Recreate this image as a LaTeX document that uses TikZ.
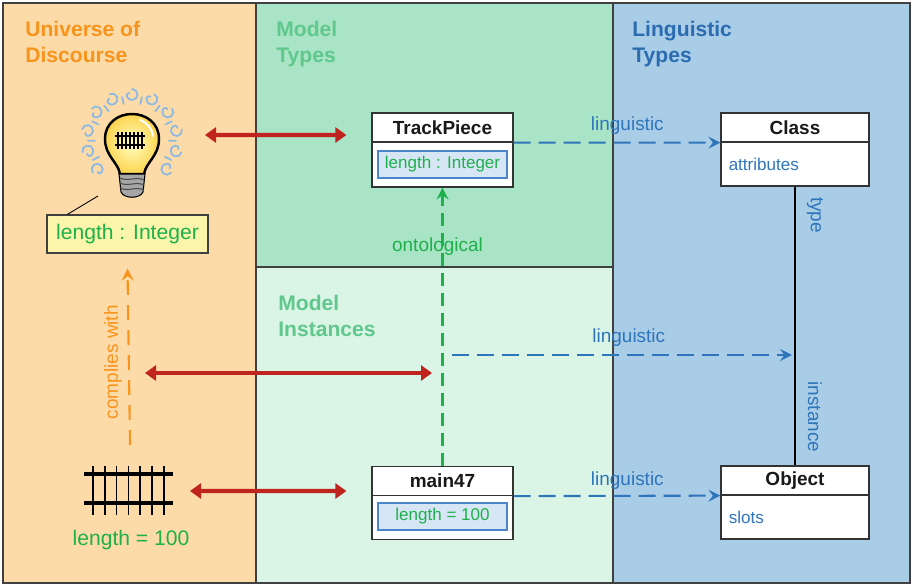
\documentclass[tikz,border=0pt]{standalone}
\usepackage{fontspec}
\setmainfont{Liberation Sans}
\usetikzlibrary{arrows.meta}

\tikzset{
  panel/.style = {draw = black!75, line width = 0.7pt},
  paneltitle/.style = {anchor = north west, align = left, inner sep = 0pt, font = \fontsize{12}{14.8}\selectfont\bfseries},
  umlbox/.style = {draw = black!80, rectangle, fill = white, line width = 0.7pt, inner sep = 0pt},
  umlhead/.style = {draw = black!80, rectangle, line width = 0.7pt, inner sep = 0pt, minimum height = 0.58cm, anchor = north, font = \fontsize{10.8}{13}\selectfont\bfseries, text = black!90},
  slotbox/.style = {draw = slotline, fill = slotfill, rectangle, line width = 0.6pt, minimum width = 2.58cm, minimum height = 0.54cm, inner sep = 0pt, font = \fontsize{9.7}{12}\selectfont, text = textgreen},
  slottext/.style = {anchor = west, inner sep = 0pt, font = \fontsize{9.7}{12}\selectfont, text = linkblue},
  edgelabel/.style = {inner sep = 0pt, font = \fontsize{10.8}{13}\selectfont},
  relarrow/.style = {draw = relred, line width = 2.4pt, {Triangle[length = 2.2mm, width = 3mm]}-{Triangle[length = 2.2mm, width = 3mm]}},
  linkarrow/.style = {draw = linkblue, line width = 1.2pt, dash pattern = on 0.34cm off 0.16cm, -{Stealth[length = 2.4mm, width = 2.4mm, inset = 0.9mm]}},
  curl/.style = {draw = curlblue, line width = 1pt, line cap = round},
}

\begin{document}
\begin{tikzpicture}[x = 0.02cm, y = -0.02cm]
        \definecolor{udbg}{RGB}{253,219,168}
        \definecolor{mtbg}{RGB}{168,228,197}
        \definecolor{mibg}{RGB}{218,244,229}
        \definecolor{ltbg}{RGB}{169,204,231}
        \definecolor{udtitle}{RGB}{247,148,29}
        \definecolor{mttitle}{RGB}{96,200,140}
        \definecolor{lttitle}{RGB}{43,108,176}
        \definecolor{textgreen}{RGB}{30,177,75}
        \definecolor{linkblue}{RGB}{46,117,187}
        \definecolor{relred}{RGB}{192,36,30}
        \definecolor{slotfill}{RGB}{214,230,244}
        \definecolor{slotline}{RGB}{74,134,200}
        \definecolor{noteyellow}{RGB}{250,245,170}
        \definecolor{curlblue}{RGB}{140,185,228}
        \definecolor{bulbyellow}{RGB}{252,212,80}

        \useasboundingbox (0,0) rectangle (912,585);

        % the three columns
        \path[fill = udbg] (3,3) rectangle (256,583);
        \path[fill = mtbg] (256,3) rectangle (613,267);
        \path[fill = mibg] (256,267) rectangle (613,583);
        \path[fill = ltbg] (613,3) rectangle (910,583);
        \draw[panel] (3,3) rectangle (910,583);
        \draw[panel] (256,3) -- (256,583);
        \draw[panel] (613,3) -- (613,583);
        \draw[panel] (256,267) -- (613,267);

        \node[paneltitle, text = udtitle] (udname) at (25,21) {Universe of\\Discourse};
        \node[paneltitle, text = mttitle] (mtname) at (276,21) {Model\\Types};
        \node[paneltitle, text = mttitle] (miname) at (278,295) {Model\\Instances};
        \node[paneltitle, text = lttitle] (ltname) at (632,21) {Linguistic\\Types};

        % light bulb with the rail inside
        \foreach \a in {140,166,...,400}
          \draw[curl] ([shift = {(\a:51)}] 132,140) arc[start angle = \a, delta angle = 250, radius = 5.5] arc[start angle = \a + 250, delta angle = 120, radius = 2.5];
        \foreach \a in {153,179,...,390}
          \draw[curl] ([shift = {(\a:37)}] 132,140) -- ([shift = {(\a:44)}] 132,140);
        \shade[inner color = yellow!25, outer color = bulbyellow] (120,174) .. controls (118,162) and (105,156) .. (105,139) .. controls (105,123) and (118,114) .. (132,114) .. controls (146,114) and (159,123) .. (159,139) .. controls (159,156) and (146,162) .. (144,174) -- cycle;
        \draw[line width = 1.4pt] (120,174) .. controls (118,162) and (105,156) .. (105,139) .. controls (105,123) and (118,114) .. (132,114) .. controls (146,114) and (159,123) .. (159,139) .. controls (159,156) and (146,162) .. (144,174) -- cycle;
        \draw[white, line width = 1.2pt, line cap = round] (140,120) .. controls (148,123) and (152,129) .. (153,136);
        \draw[fill = black!35, line width = 0.6pt] (119,174) -- (145,174) -- (143,192) .. controls (140,199) and (124,199) .. (121,192) -- cycle;
        \foreach \y in {178,183,188}
          \draw[black!70, line width = 0.6pt] (120,\y) .. controls (128,\y+4) and (136,\y-2) .. (144,\y+2);
        \draw[line width = 1.5pt] (115,136) -- (145,136);
        \draw[line width = 1.5pt] (115,145) -- (145,145);
        \foreach \x in {118,122,...,142}
          \draw[line width = 0.6pt] (\x,132) -- (\x,149);
        \coordinate (bulbtip) at (98,196);

        \node[draw = black!75, fill = noteyellow, rectangle, line width = 0.7pt, minimum width = 3.22cm, minimum height = 0.76cm, font = \fontsize{12}{14}\selectfont, text = textgreen] (ub) at (127.5,234) {length : Integer};
        \draw[line width = 0.5pt] (bulbtip) -- ([xshift = 0.42cm] ub.north west);

        % the rail piece itself
        \draw[line width = 2pt] (84,474) -- (173,474);
        \draw[line width = 2pt] (84,503) -- (173,503);
        \foreach \x in {93,104.8,...,165}
          \draw[line width = 0.8pt] (\x,466) -- (\x,515);
        \node[inner sep = 0pt, font = \fontsize{12}{14}\selectfont, text = textgreen] (railval) at (131,540) {length = 100};

        % model types and instances
        \node[umlbox, minimum width = 2.82cm, minimum height = 1.48cm] (tp) at (442.5,150) {};
        \node[umlhead, minimum width = 2.82cm] (tphead) at (tp.north) {TrackPiece};
        \node[slotbox] (tpslot) at ([yshift = -0.29cm] tp.center) {length : Integer};

        \node[umlbox, minimum width = 2.82cm, minimum height = 1.46cm] (m47) at (442.5,503) {};
        \node[umlhead, minimum width = 2.82cm] (m47head) at (m47.north) {main47};
        \node[slotbox] (m47slot) at ([yshift = -0.27cm] m47.center) {length = 100};

        % linguistic types
        \node[umlbox, minimum width = 2.96cm, minimum height = 1.46cm] (cl) at (795,149.5) {};
        \node[umlhead, minimum width = 2.96cm] (clhead) at (cl.north) {Class};
        \node[slottext] (clattr) at ([xshift = 0.16cm, yshift = -0.29cm] cl.west) {attributes};

        \node[umlbox, minimum width = 2.96cm, minimum height = 1.46cm] (ob) at (795,502.5) {};
        \node[umlhead, minimum width = 2.96cm] (obhead) at (ob.north) {Object};
        \node[slottext] (obslots) at ([xshift = 0.16cm, yshift = -0.29cm] ob.west) {slots};

        \draw[line width = 0.7pt] (cl.south) -- (ob.north);
        \node[edgelabel, rotate = -90, text = linkblue] (typelbl) at (815,215) {type};
        \node[edgelabel, rotate = -90, text = linkblue] (instlbl) at (815,417) {instance};

        % relations between the columns
        \coordinate (bulbside) at (205,135);
        \coordinate (trackside) at (190,491);
        \coordinate (udmid) at (145,373);
        \coordinate (mimid) at (432,373);
        \coordinate (milink) at (452,355);
        \coordinate (ltlink) at (792,355);
        \coordinate (complyfrom) at (130,445);

        \path[relarrow] (bulbside) -- ([xshift = -0.5cm, yshift = 0.3cm] tp.west);
        \path[relarrow] (udmid) -- (mimid);
        \path[relarrow] (trackside) -- ([xshift = -0.5cm, yshift = 0.24cm] m47.west);

        \path[linkarrow] (tphead.south east) -- (clhead.south west) node [edgelabel, text = linkblue, pos = 0.55, yshift = 0.34cm] {linguistic};
        \path[linkarrow] (milink) -- (ltlink) node [edgelabel, text = linkblue, pos = 0.52, yshift = 0.34cm] {linguistic};
        \path[linkarrow] (m47head.south east) -- (obhead.south west) node [edgelabel, text = linkblue, pos = 0.55, yshift = 0.30cm] {linguistic};

        \node[edgelabel, text = textgreen] (ontolbl) at (437.5,247) {ontological};
        \path[draw = textgreen, line width = 1.2pt, dash pattern = on 0.26cm off 0.14cm, -{Stealth[length = 2.4mm, width = 2.4mm, inset = 0.9mm]}] (m47.north) -- (tp.south);

        \path[draw = udtitle, line width = 1.2pt, dash pattern = on 0.3cm off 0.2cm, -{Stealth[length = 2.4mm, width = 2.4mm, inset = 0.9mm]}] (complyfrom) -- ([yshift = -0.3cm] ub.south) node [edgelabel, text = udtitle, rotate = 90, pos = 0.47, anchor = south, yshift = 0.12cm] {complies with};

      \end{tikzpicture}
\end{document}
